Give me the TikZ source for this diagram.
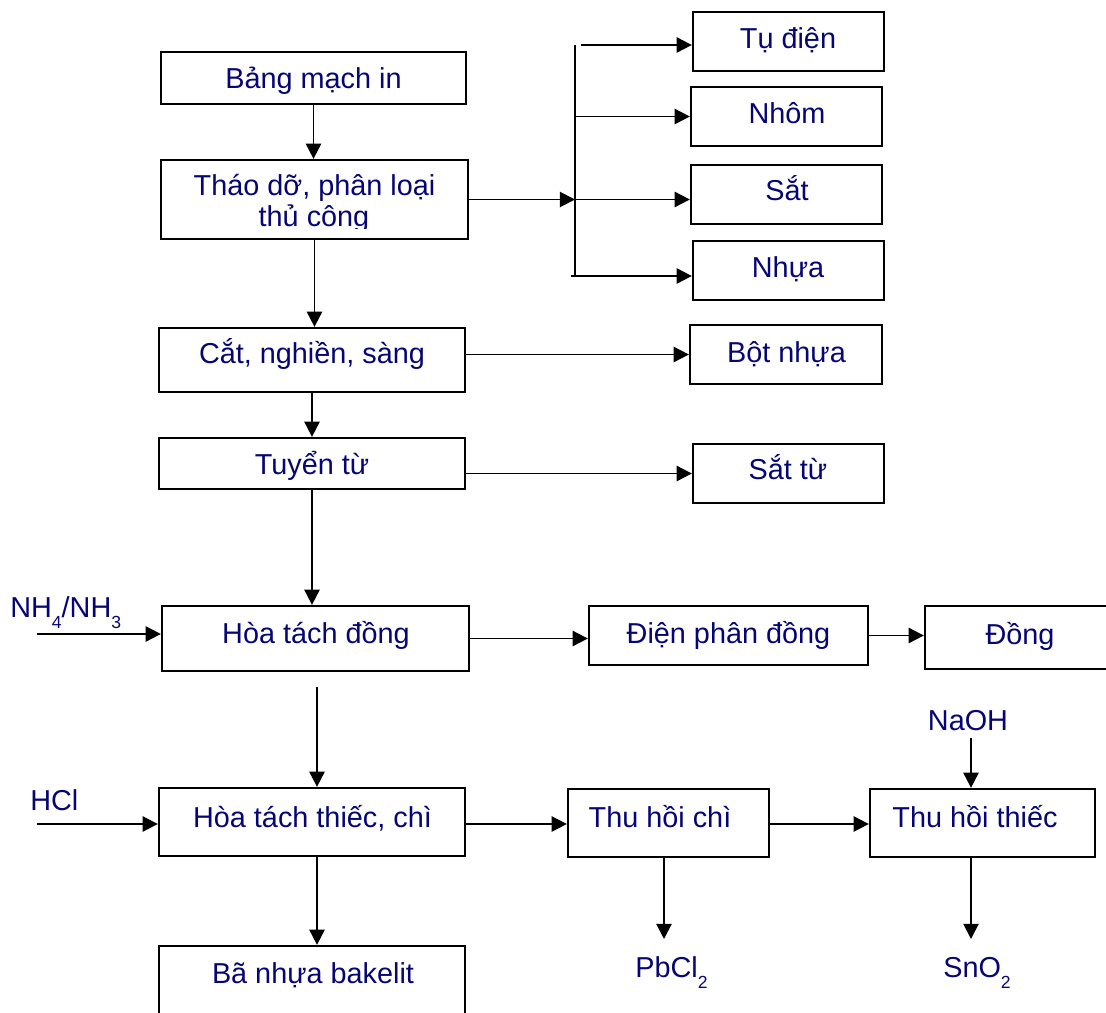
\documentclass[tikz,border=0pt]{standalone}
\usepackage{fontspec}
\setmainfont{Liberation Sans}
\usetikzlibrary{arrows.meta}
\definecolor{navy}{RGB}{5,5,115}
\newcommand\subs[1]{\raisebox{-8.5pt}{\fontsize{12.5}{12.5}\selectfont #1}}
\begin{document}
\begin{tikzpicture}[x=0.025cm,y=-0.025cm,
  box/.style 2 args={draw, line width=1.6pt, inner sep=0pt, minimum width=#1cm, minimum height=#2cm},
  txt/.style={inner sep=0pt, anchor=base, text=navy, font=\fontsize{20.5}{24}\selectfont},
  lbl/.style={inner sep=0pt, anchor=base west, text=navy, font=\fontsize{20.5}{24}\selectfont},
  arr/.style={line width=1.4pt, -{Triangle[length=0.38cm,width=0.38cm]}},
  ln/.style={line width=1.4pt}]
\useasboundingbox (0,0) rectangle (1106,1013);
\clip (0,0) rectangle (1106,1013);

% boxes
\node[box={7.625}{1.3}]   (bang)     at (313.5,78)   {};
\node[box={7.675}{1.975}] (thao)     at (314.5,199.5) {};
\node[box={4.775}{1.475}] (tudien)   at (788.5,41.5) {};
\node[box={4.775}{1.475}] (nhom)     at (786.5,116.5) {};
\node[box={4.775}{1.475}] (sat)      at (786.5,194.5) {};
\node[box={4.775}{1.475}] (nhua)     at (788.5,270.5) {};
\node[box={7.65}{1.6}]    (cat)      at (312,360)    {};
\node[box={4.8}{1.475}]   (botnhua)  at (786,354.5)  {};
\node[box={7.65}{1.275}]  (tuyen)    at (312,463.5)  {};
\node[box={4.775}{1.475}] (sattu)    at (788.5,473.5) {};
\node[box={7.675}{1.625}] (hoadong)  at (315.5,638.5) {};
\node[box={6.975}{1.475}] (dienphan) at (728.5,635.5) {};
\node[box={5.375}{1.575}] (dong)     at (1032.5,637.5) {};
\node[box={7.65}{1.7}]    (hoathiec) at (312,822)    {};
\node[box={5.025}{1.7}]   (thuchi)   at (668.5,823)  {};
\node[box={5.625}{1.7}]   (thuthiec) at (982.5,823)  {};
\node[box={7.65}{2.5}]    (bakelit)  at (312,996)    {};

% texts
\node[txt] (tbang) at (313.5,88) {Bảng mạch in};
\node[txt] (tthao1) at (314.5,195) {Tháo dỡ, phân loại};
\begin{scope}
  \clip (161,160) rectangle (468,228);
  \node[txt] (tthao2) at (314,226) {thủ công};
\end{scope}
\node[txt] (ttudien) at (788,48) {Tụ điện};
\node[txt] (tnhom) at (787,123) {Nhôm};
\node[txt] (tsat) at (787,200) {Sắt};
\node[txt] (tnhua) at (788,277) {Nhựa};
\node[txt] (tcat) at (312,363) {Cắt, nghiền, sàng};
\node[txt] (tbotnhua) at (786.5,362) {Bột nhựa};
\node[txt] (ttuyen) at (312,474) {Tuyển từ};
\node[txt] (tsattu) at (788,479) {Sắt từ};
\node[txt] (thoadong) at (316,643) {Hòa tách đồng};
\node[txt] (tdienphan) at (728.5,643) {Điện phân đồng};
\node[txt] (tdong) at (1020,644) {Đồng};
\node[txt] (thoathiec) at (312.5,827) {Hòa tách thiếc, chì};
\node[txt] (tthuchi) at (660,827) {Thu hồi chì};
\node[txt] (tthuthiec) at (975,827) {Thu hồi thiếc};
\node[txt] (tbakelit) at (313,983) {Bã nhựa bakelit};

\node[lbl] (nh) at (10,617) {NH\subs{4}/NH\subs{3}};
\node[lbl] (hcl) at (30,810) {HCl};
\node[txt] (naoh) at (968,730) {NaOH};
\node[lbl] (pbcl) at (635,977) {PbCl\subs{2}};
\node[lbl] (sno) at (943,977) {SnO\subs{2}};

% helper coordinates
\coordinate (busT) at (575,45);
\coordinate (busB) at (575,276);
\coordinate (nhin) at (37,634);
\coordinate (hclin) at (37,824);
\coordinate (col) at (317,0);
\coordinate (pbtip) at (664,939);
\coordinate (sntip) at (971,939);

% connectors
\draw[arr] (bang.south) -- (bang.south |- thao.north);
\draw[ln] (busT) -- (busB);
\draw[arr] (thao.east) -- (busT |- thao.east);
\draw[arr] ([xshift=0.15cm]busT) -- (tudien.west |- busT);
\draw[arr] (busT |- nhom.west) -- (nhom.west);
\draw[arr] (busT |- thao.east) -- (sat.west |- thao.east);
\draw[arr] ([xshift=-0.1cm]busB) -- (nhua.west |- busB);
\draw[arr] (thao.south) -- (thao.south |- cat.north);
\draw[arr] (cat.east |- botnhua.west) -- (botnhua.west);
\draw[arr] (cat.south) -- (cat.south |- tuyen.north);
\draw[arr] (tuyen.east |- sattu.west) -- (sattu.west);
\draw[arr] (tuyen.south) -- (tuyen.south |- hoadong.north);
\draw[arr] (nhin) -- (hoadong.west |- nhin);
\draw[arr] (hoadong.east) -- (dienphan.west |- hoadong.east);
\draw[arr] (dienphan.east) -- (dong.west |- dienphan.east);
\draw[arr, shorten <=0.375cm] (hoadong.south -| col) -- (hoathiec.north -| col);
\draw[arr] (hclin) -- (hoathiec.west |- hclin);
\draw[arr] (hoathiec.east |- hclin) -- (thuchi.west |- hclin);
\draw[arr] (thuchi.east |- hclin) -- (thuthiec.west |- hclin);
\draw[arr, shorten <=0.175cm] (naoh.south -| sntip) -- (thuthiec.north -| sntip);
\draw[arr] (thuchi.south -| pbtip) -- (pbtip);
\draw[arr] (thuthiec.south -| sntip) -- (sntip);
\draw[arr] (hoathiec.south -| col) -- (bakelit.north -| col);
\end{tikzpicture}
\end{document}
